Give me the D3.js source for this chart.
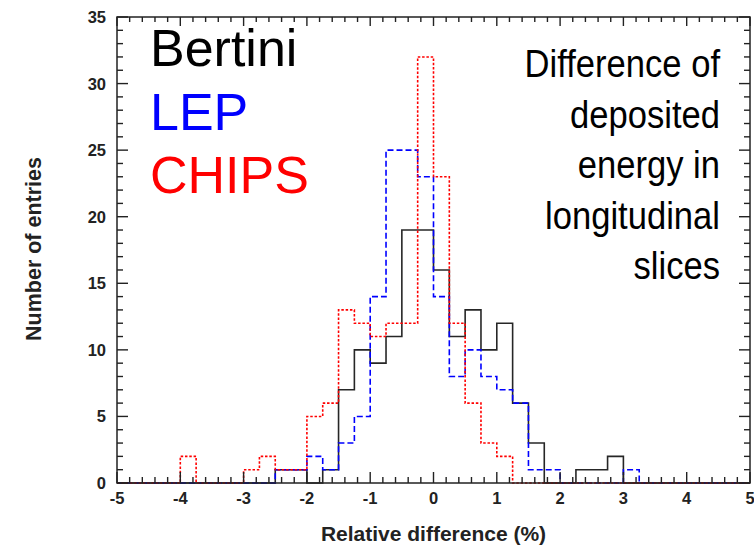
<!DOCTYPE html>
<html>
<head>
<meta charset="utf-8">
<script src="https://cdn.jsdelivr.net/npm/d3@7"></script>
<style>
  html, body { margin: 0; padding: 0; background: #fff; }
  svg { display: block; }
  text { font-family: "Liberation Sans", Arial, sans-serif; }
</style>
</head>
<body>
<svg id="chart" width="754" height="548"></svg>
<script>
// ---- data (bins of width 0.25 from -5 to 5; value = count in bin) ----
const binEdgesStart = -5;
const binWidth = 0.25;
const bertini = [0,0,0,0,0,0,0,0,0,0, 1,1,0,1,7,10,9,11,19,19, 16,11,13,10,12,6,3,0,0,1, 1,2,0,0,0,0,0,0,0,0];
const lep     = [0,0,0,0,0,0,0,0,0,0, 1,1,2,1,3,5,14,25,25,23, 14,8,10,8,7,6,1,1,0,0, 0,0,1,0,0,0,0,0,0,0];
const chips   = [0,0,0,0,2,0,0,0,1,2, 1,1,5,6,13,12,11,12,12,32, 23,12,6,3,2,0,0,0,0,0, 0,0,0,0,0,0,0,0,0,0];
const xTicks = [-5,-4,-3,-2,-1,0,1,2,3,4,5];
const yTicks = [0,5,10,15,20,25,30,35];
const seriesNames = ["Bertini","LEP","CHIPS"];
const seriesColors = ["#000000","#0000ff","#ff0000"];
const noteLines = ["Difference of","deposited","energy in","longitudinal","slices"];

const svg = d3.select("#chart");
const L = 117, R = 750, T = 17, B = 483;
const x = d3.scaleLinear().domain([-5,5]).range([L,R]);
const y = d3.scaleLinear().domain([0,35]).range([B,T]);

// histogram outlines
function stepPoints(vals){
  const pts = vals.map((v,i)=>[binEdgesStart + i*binWidth, v]);
  pts.push([binEdgesStart + vals.length*binWidth, vals[vals.length-1]]);
  return pts;
}
const line = d3.line().x(d=>x(d[0])).y(d=>y(d[1])).curve(d3.curveStepAfter);
const series = [
  {vals: bertini, color: seriesColors[0], dash: null, w: 1.6},
  {vals: lep, color: seriesColors[1], dash: "6,3", w: 1.6},
  {vals: chips, color: seriesColors[2], dash: "2.5,1.8", w: 1.6}
];
series.forEach(s=>{
  svg.append("path").attr("d", line(stepPoints(s.vals)))
    .attr("fill","none").attr("stroke", s.color).attr("stroke-width", s.w)
    .attr("stroke-dasharray", s.dash).attr("opacity", s.color==="#000000"?0.85:1);
});

// frame
svg.append("rect").attr("x",L).attr("y",T).attr("width",R-L).attr("height",B-T)
  .attr("fill","none").attr("stroke","#222").attr("stroke-width",1.5);

// ticks
const xMinor = d3.range(-5, 5.0001, 0.2);
const yMinor = d3.range(0, 35.0001, 1);
const tk = svg.append("g").attr("stroke","#222").attr("stroke-width",1.4);
xMinor.forEach(v=>{
  const major = Math.abs(v - Math.round(v)) < 1e-6;
  const lb = major ? 11 : 6, lt = major ? 9 : 5;
  tk.append("line").attr("x1",x(v)).attr("x2",x(v)).attr("y1",B).attr("y2",B-lb);
  tk.append("line").attr("x1",x(v)).attr("x2",x(v)).attr("y1",T).attr("y2",T+lt);
});
yMinor.forEach(v=>{
  const major = v % 5 === 0;
  const ll = major ? 11 : 6;
  tk.append("line").attr("x1",L).attr("x2",L+ll).attr("y1",y(v)).attr("y2",y(v));
  tk.append("line").attr("x1",R).attr("x2",R-ll).attr("y1",y(v)).attr("y2",y(v));
});

// tick labels
svg.append("g").selectAll("text").data(xTicks).join("text")
  .attr("x", d=>x(d)).attr("y", B+21).attr("text-anchor","middle")
  .attr("font-size",16.5).attr("font-weight","bold").attr("fill","#222")
  .text(d=>d);
svg.append("g").selectAll("text").data(yTicks).join("text")
  .attr("x", L-11).attr("y", d=>y(d)+6).attr("text-anchor","end")
  .attr("font-size",16.5).attr("font-weight","bold").attr("fill","#222")
  .text(d=>d);

// axis titles
svg.append("text").attr("x", x(0)).attr("y", 541).attr("text-anchor","middle")
  .attr("font-size",21).attr("font-weight","bold").attr("fill","#222")
  .text("Relative difference (%)");
svg.append("text").attr("transform","translate(41,249) rotate(-90)").attr("text-anchor","middle")
  .attr("font-size",21.5).attr("font-weight","bold").attr("fill","#222")
  .text("Number of entries");

// legend texts
seriesNames.forEach((n,i)=>{
  svg.append("text").attr("x",150).attr("y",66 + i*63.5)
    .attr("font-size",52).attr("fill",seriesColors[i]).text(n);
});

// note
noteLines.forEach((t,i)=>{
  svg.append("text").attr("transform",`translate(720,${77 + i*50.5}) scale(0.91,1)`)
    .attr("text-anchor","end").attr("font-size",38).attr("fill","#000").text(t);
});
</script>
</body>
</html>
